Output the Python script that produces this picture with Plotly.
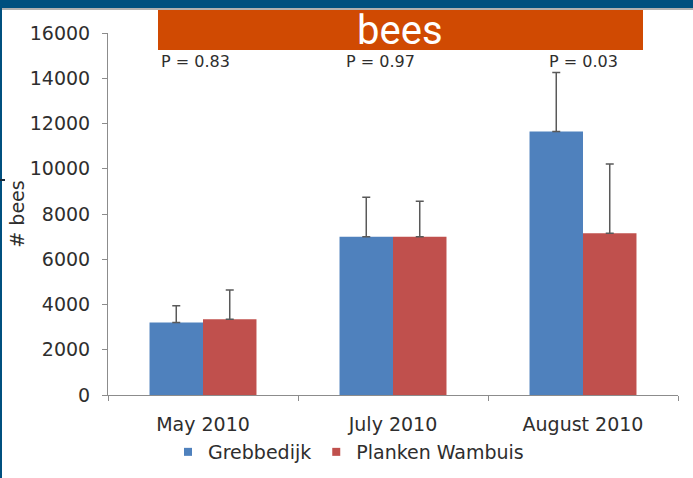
import plotly.graph_objects as go

# ---- data ----
categories = ["May 2010", "July 2010", "August 2010"]
grebbedijk = [3200, 7000, 11650]
grebbedijk_err = [740, 1740, 2600]
planken = [3350, 7000, 7150]
planken_err = [1290, 1560, 3060]
p_labels = ["P = 0.83", "P = 0.97", "P = 0.03"]
y_ticks = [0, 2000, 4000, 6000, 8000, 10000, 12000, 14000, 16000]

BLUE = "#4F81BD"
RED = "#C0504D"
TXT = "#2e2e2e"
AX = "#8c8c8c"
FONT = "DejaVu Sans"

W, H = 693, 478
ML, MR, MT, MB = 108, 15, 33, 83
PW = W - ML - MR
PH = H - MT - MB


def px_x(x):
    return (x - ML) / PW


def px_y(y):
    return (H - MB - y) / PH


fig = go.Figure()
fig.add_trace(go.Bar(
    x=categories, y=grebbedijk, name="Grebbedijk", marker_color=BLUE,
    marker_line_width=0, showlegend=False,
    error_y=dict(type="data", array=grebbedijk_err, arrayminus=[0] * 3,
                 symmetric=False, color="#595959", thickness=1.5, width=4),
))
fig.add_trace(go.Bar(
    x=categories, y=planken, name="Planken Wambuis", marker_color=RED,
    marker_line_width=0, showlegend=False,
    error_y=dict(type="data", array=planken_err, arrayminus=[0] * 3,
                 symmetric=False, color="#595959", thickness=1.5, width=4),
))
# legend entries with small square symbols
for nm, col in [("Grebbedijk", BLUE), ("Planken Wambuis", RED)]:
    fig.add_trace(go.Scatter(x=[None], y=[None], mode="markers", name=nm,
                             marker=dict(symbol="square", size=8, color=col)))

shapes = [
    # top dark blue bar
    dict(type="rect", xref="paper", yref="paper", x0=px_x(0), x1=px_x(W),
         y0=px_y(8), y1=px_y(0), fillcolor="#00507F", line_width=0),
    dict(type="rect", xref="paper", yref="paper", x0=px_x(0), x1=px_x(W),
         y0=px_y(10), y1=px_y(8), fillcolor="#b0b0b0", line_width=0),
    # left border
    dict(type="rect", xref="paper", yref="paper", x0=px_x(0), x1=px_x(2),
         y0=px_y(H), y1=px_y(0), fillcolor="#00507F", line_width=0),
    dict(type="rect", xref="paper", yref="paper", x0=px_x(0), x1=px_x(5),
         y0=px_y(181), y1=px_y(179), fillcolor="#1a2a3a", line_width=0),
    # orange banner
    dict(type="rect", xref="paper", yref="paper", x0=px_x(158), x1=px_x(643),
         y0=px_y(50), y1=px_y(10), fillcolor="#D04A02", line_width=0),
]

annotations = [
    dict(text="bees", xref="paper", yref="paper", x=px_x(400), y=px_y(30),
         xanchor="center", yanchor="middle", showarrow=False, height=40,
         valign="middle",
         font=dict(family="Roboto", size=40, color="white")),
]
for lbl, xp in zip(p_labels, [195.5, 380, 583]):
    annotations.append(dict(text=lbl, xref="paper", yref="paper", x=px_x(xp),
                            y=px_y(61), xanchor="center", yanchor="middle",
                            showarrow=False,
                            font=dict(family=FONT, size=16, color=TXT)))

fig.update_layout(
    width=W, height=H,
    margin=dict(l=ML, r=MR, t=MT, b=MB, pad=0, autoexpand=False),
    paper_bgcolor="white", plot_bgcolor="white",
    barmode="group", bargap=0.437, bargroupgap=0,
    font=dict(family=FONT, size=19, color=TXT),
    shapes=shapes, annotations=annotations,
    legend=dict(orientation="h", x=px_x(168), xanchor="left",
                y=px_y(452), yanchor="middle",
                font=dict(family=FONT, size=19, color=TXT),
                bgcolor="rgba(0,0,0,0)"),
    xaxis=dict(showline=True, linecolor=AX, linewidth=1, ticks="outside",
               tickson="boundaries", ticklen=5, tickcolor=AX,
               showgrid=False, zeroline=False, ticklabelstandoff=12,
               automargin=False,
               tickfont=dict(family=FONT, size=19, color=TXT)),
    yaxis=dict(range=[0, 16000], tickvals=y_ticks,
               ticktext=[str(v) for v in y_ticks],
               showline=True, linecolor=AX, linewidth=1, ticks="outside",
               ticklen=5, tickcolor=AX, showgrid=False, zeroline=False,
               ticklabelstandoff=8, automargin=False,
               tickfont=dict(family=FONT, size=19, color=TXT),
               title=dict(text="# bees", standoff=0,
                          font=dict(family=FONT, size=19, color=TXT))),
)

fig.write_html("out.html")
